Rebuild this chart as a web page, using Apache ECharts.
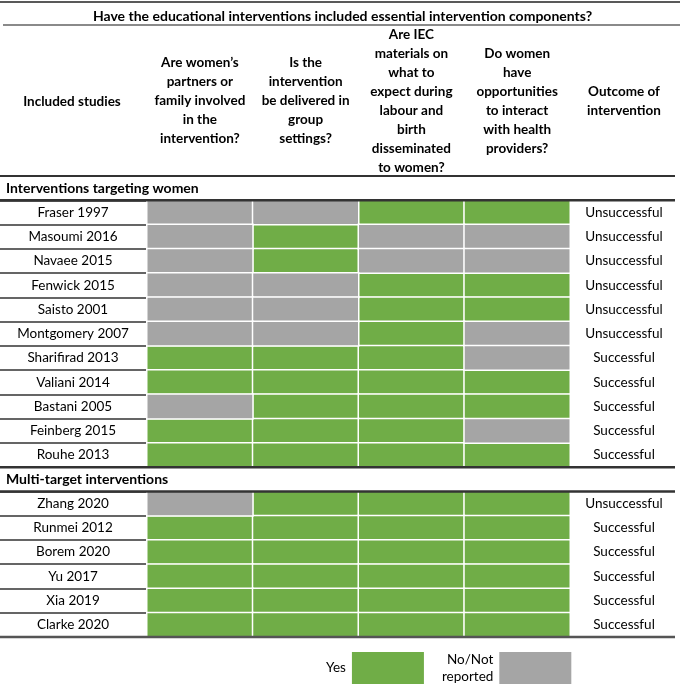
<!DOCTYPE html>
<html>
<head>
<meta charset="utf-8">
<script src="https://cdn.jsdelivr.net/npm/echarts@6/dist/echarts.min.js"></script>
<style>html,body{margin:0;padding:0;background:#fff}#c{width:685px;height:686px}</style>
</head>
<body>
<div id="c"></div>
<script>
// ---------- data ----------
const titleText = 'Have the educational interventions included essential intervention components?';
const components = [
  'Are women\u2019s\npartners or\nfamily involved\nin the\nintervention?',
  'Is the\nintervention\nbe delivered in\ngroup\nsettings?',
  'Are IEC\nmaterials on\nwhat to\nexpect during\nlabour and\nbirth\ndisseminated\nto women?',
  'Do women\nhave\nopportunities\nto interact\nwith health\nproviders?'
];
const studyHeader = 'Included studies';
const outcomeHeader = 'Outcome of\nintervention';
const sectionWomen = 'Interventions targeting women';
const sectionMulti = 'Multi-target interventions';
const studiesWomen = ['Fraser 1997','Masoumi 2016','Navaee 2015','Fenwick 2015','Saisto 2001','Montgomery 2007','Sharifirad 2013','Valiani 2014','Bastani 2005','Feinberg 2015','Rouhe 2013'];
const studiesMulti = ['Zhang 2020','Runmei 2012','Borem 2020','Yu 2017','Xia 2019','Clarke 2020'];
// 1 = Yes, 0 = No/Not reported
const partnersFamily = [0,0,0,0,0,0,1,1,0,1,1, 0,1,1,1,1,1];
const groupSettings  = [0,1,1,0,0,0,1,1,1,1,1, 1,1,1,1,1,1];
const iecMaterials   = [1,0,0,1,1,1,1,1,1,1,1, 1,1,1,1,1,1];
const interactProv   = [1,0,0,1,1,0,0,1,1,0,1, 1,1,1,1,1,1];
const outcomes = ['Unsuccessful','Unsuccessful','Unsuccessful','Unsuccessful','Unsuccessful','Unsuccessful','Successful','Successful','Successful','Successful','Successful',
                  'Unsuccessful','Successful','Successful','Successful','Successful','Successful'];
const legendYes = 'Yes';
const legendNo = 'No/Not reported';

// ---------- build ----------
const rows = [sectionWomen, ...studiesWomen, sectionMulti, ...studiesMulti];
const headings = new Set([sectionWomen, sectionMulti]);
const studies = [...studiesWomen, ...studiesMulti];
const cols = [partnersFamily, groupSettings, iecMaterials, interactProv];
const yesData = [], noData = [];
studies.forEach((s, i) => {
  const r = rows.indexOf(s);
  cols.forEach((c, j) => { (c[i] ? yesData : noData).push([j, r, 1]); });
});
const outcomeByRow = rows.map(r => { const i = studies.indexOf(r); return i < 0 ? '' : outcomes[i]; });

const FONT = 'Lato';
const GREEN = '#70AD47', GREY = '#A5A5A5';
const gridTop = 176, gridH = 461, gridL = 147, gridR = 570;
const rowH = gridH / rows.length;
const ruleY = k => gridTop + k * rowH;
const line = (x1, y, x2, w, c) => ({type:'line', z:100, shape:{x1, y1:y, x2, y2:y}, style:{stroke:c, lineWidth:w}});

const chart = echarts.init(document.getElementById('c'), null, {renderer:'canvas'});
chart.setOption({
  animation: false,
  textStyle: {fontFamily: FONT},
  title: {text: titleText, left: 'center', top: 4,
    textStyle: {fontFamily: FONT, fontSize: 14, fontWeight: 'bold', color: '#000'}},
  grid: {left: gridL, right: 685 - gridR, top: gridTop, height: gridH},
  xAxis: {type: 'category', position: 'top', data: components,
    axisLine: {show: false}, axisTick: {show: false}, splitLine: {show: false},
    axisLabel: {interval: 0, margin: 75, verticalAlign: 'middle', lineHeight: 19,
      fontFamily: FONT, fontSize: 13.5, fontWeight: 'bold', color: '#000', align: 'center'}},
  yAxis: [
    {type: 'category', inverse: true, data: rows, position: 'left',
      axisLine: {show: false}, splitLine: {show: false},
      axisTick: {show: true, length: gridL, lineStyle: {color: '#333', width: 1.5}},
      axisLabel: {interval: 0, margin: 74, align: 'center',
        formatter: v => headings.has(v) ? '{h|' + v + '}' : '{n|' + v + '}',
        rich: {
          h: {width: 140, align: 'left', padding: [0,0,0,6], fontFamily: FONT, fontSize: 14, fontWeight: 'bold', color: '#000'},
          n: {width: 140, align: 'center', fontFamily: FONT, fontSize: 13.5, color: '#000'}
        }}},
    {type: 'category', inverse: true, data: rows, position: 'right',
      axisLine: {show: false}, axisTick: {show: false}, splitLine: {show: false},
      axisLabel: {interval: 0, margin: 54, align: 'center', padding: [0,0,5,0],
        formatter: (v, i) => outcomeByRow[i],
        fontFamily: FONT, fontSize: 13.5, color: '#000'}}
  ],
  legend: {left: 326, top: 650, padding: 0, align: 'right', icon: 'rect', itemWidth: 74, itemHeight: 34, itemGap: 16,
    selectedMode: false, data: [legendYes, legendNo],
    formatter: n => n === legendNo ? 'No/Not\nreported' : n,
    textStyle: {fontFamily: FONT, fontSize: 13.5, color: '#000', lineHeight: 17}},
  graphic: [
    line(0, 2, 680, 1.5, '#222'),
    line(3, 25, 680, 2, '#8a8a8a'),
    line(0, ruleY(0), 675, 2, '#333'),
    line(0, ruleY(1), 675, 2.5, '#333'),
    line(0, ruleY(12), 675, 2.5, '#333'),
    line(0, ruleY(13), 675, 2.5, '#333'),
    line(0, ruleY(rows.length), 675, 2.5, '#555'),
    {type: 'text', z: 100, x: 72, y: 101.5, style: {text: studyHeader, align: 'center', verticalAlign: 'middle',
      font: 'bold 13.5px ' + FONT, fill: '#000'}},
    {type: 'text', z: 100, x: 624, y: 101.5, style: {text: outcomeHeader, align: 'center', verticalAlign: 'middle',
      font: 'bold 13.5px ' + FONT, fill: '#000', lineHeight: 19}}
  ],
  series: [
    {name: legendYes, type: 'heatmap', data: yesData, itemStyle: {color: GREEN, borderColor: '#fff', borderWidth: 1.5},
      emphasis: {disabled: true}, label: {show: false}},
    {name: legendNo, type: 'heatmap', data: noData, itemStyle: {color: GREY, borderColor: '#fff', borderWidth: 1.5},
      emphasis: {disabled: true}, label: {show: false}}
  ]
});
</script>
</body>
</html>
